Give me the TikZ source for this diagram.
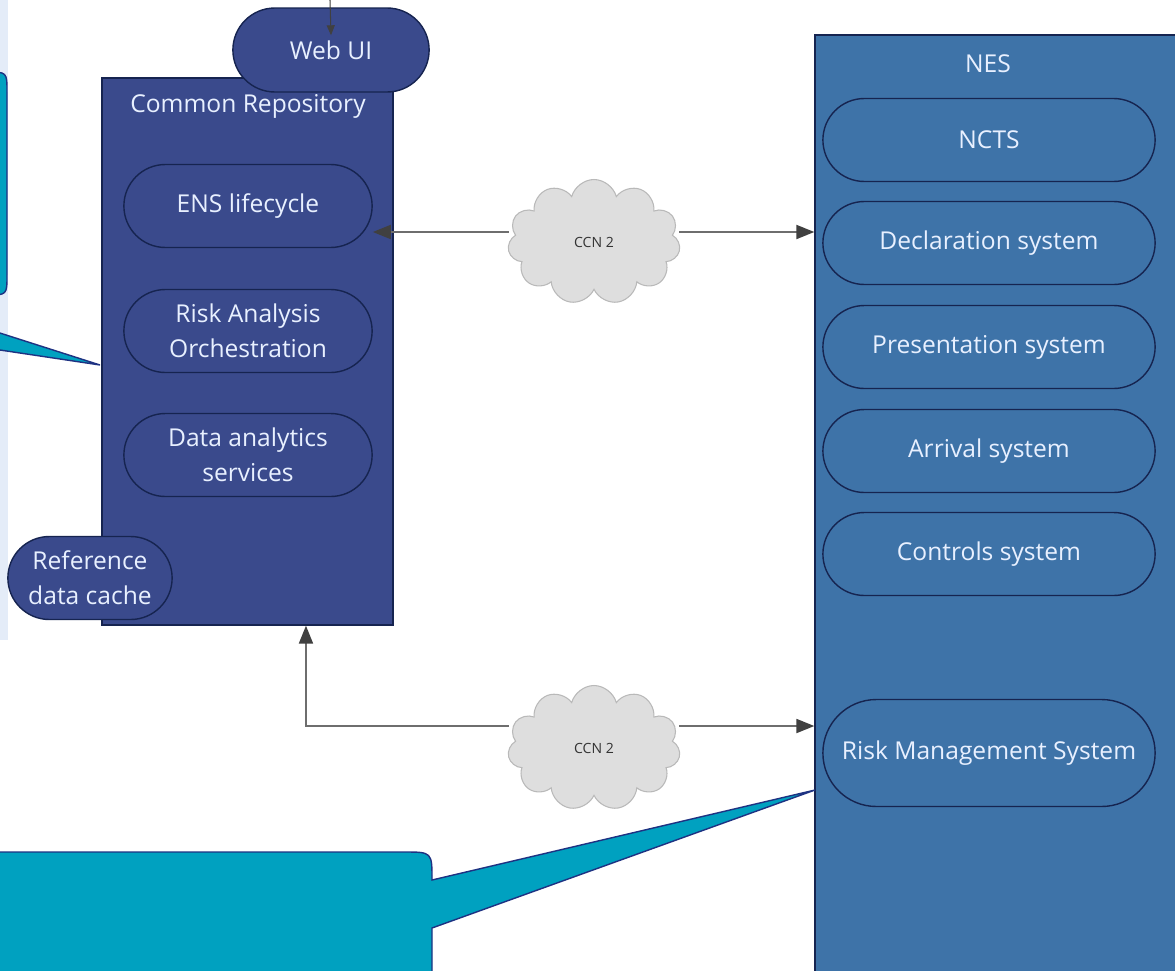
\documentclass[tikz,border=0pt]{standalone}
\usepackage{fontspec}
\setmainfont{Open Sans}
\usetikzlibrary{calc,shapes.misc,shapes.symbols,arrows.meta}

\definecolor{crblue}{RGB}{58,74,140}
\definecolor{nesblue}{RGB}{62,115,168}
\definecolor{navy}{RGB}{22,36,80}
\definecolor{calloutteal}{RGB}{0,161,192}
\definecolor{calloutedge}{RGB}{30,50,130}
\definecolor{paleband}{RGB}{228,236,248}
\definecolor{cloudgray}{RGB}{222,222,222}
\definecolor{linegray}{RGB}{110,110,110}
\definecolor{tipgray}{RGB}{64,64,64}
\definecolor{labelwhite}{RGB}{232,240,255}

\begin{document}
\begin{tikzpicture}[x=0.02cm,y=-0.02cm,
    container/.style={draw=navy,line width=0.8pt,inner sep=0pt},
    title/.style={text=labelwhite,font=\fontsize{14}{20}\selectfont},
    pill/.style={rounded rectangle,draw=navy,line width=0.8pt,text=labelwhite,
        align=center,font=\fontsize{14}{20}\selectfont,minimum height=1.66cm},
    crpill/.style={pill,fill=crblue,minimum width=5.2cm},
    nespill/.style={pill,fill=nesblue,minimum width=6.88cm},
    net/.style={cloud,cloud puffs=11,draw=gray!55,line width=0.6pt,fill=cloudgray,
        minimum width=3.45cm,minimum height=2.5cm,text=black!80,
        font=\fontsize{8}{10}\selectfont},
    link/.style={linegray,line width=1.1pt,
        -{Triangle[length=3.6mm,width=2.8mm,color=tipgray]}},
    callout/.style={fill=calloutteal,draw=calloutedge,line width=0.8pt}]

    \useasboundingbox (0,0) rectangle (1175,970);
    \clip (0,0) rectangle (1175,970);
    \fill[white] (0,0) rectangle (1175,970);
    \fill[paleband] (0,0) rectangle (8,640);

    % callout on the left
    \draw[callout] (-400,72) -- (-13,72) .. controls (7,72) .. (7,92) -- (7,275)
        .. controls (7,295) .. (-13,295) -- (-119,295) -- (100,365)
        -- (-367,295) -- (-400,295) -- cycle;

    % Common Repository
    \node[container,fill=crblue,minimum width=5.82cm,minimum height=10.94cm] (cr) at (247.5,351.5) {};
    \node[title] (crname) at (248,106) {Common Repository};
    \node[crpill] (ens) at (248,206) {ENS lifecycle};
    \node[crpill] (rao) at (248,331) {Risk Analysis\\Orchestration};
    \node[crpill] (das) at (248,455) {Data analytics\\services};
    \node[crpill,minimum width=3.52cm] (refcache) at (90,578) {Reference\\data cache};
    \node[crpill,minimum width=4.16cm,minimum height=1.68cm] (webui) at (331,50) {Web UI};

    \coordinate (uitop) at (330,0);
    \draw[tipgray,line width=0.6pt,-{Triangle[length=2mm,width=1.6mm]}] (uitop) -- ([yshift=-0.56cm]webui.north);

    % NES
    \node[container,fill=nesblue,minimum width=7.5cm,minimum height=19.1cm] (nes) at (1002.5,512.5) {};
    \node[title] (nesname) at (988,64) {NES};
    \foreach \name/\y/\txt in {ncts/140/NCTS,decl/243/Declaration system,
        pres/347/Presentation system,arr/451/Arrival system,ctrl/554/Controls system}
    {
        \node[nespill] (\name) at (989,\y) {\txt};
    }
    \node[nespill,minimum height=2.14cm] (rms) at (989,753) {Risk Management System};

    % CCN2 links
    \node[net] (ccna) at (594,242) {CCN 2};
    \node[net] (ccnb) at (594,748) {CCN 2};

    \coordinate (c1l) at ([yshift=0.2cm]ccna.west);
    \coordinate (c1r) at ([yshift=0.2cm]ccna.east);
    \coordinate (c2l) at ([yshift=0.44cm]ccnb.west);
    \coordinate (c2r) at ([yshift=0.44cm]ccnb.east);
    \coordinate (crin) at ($(cr.south west)!0.7!(cr.south east)$);

    \draw[link] (c1l) -- (c1l -| ens.east);
    \draw[link] (c1r) -- (c1r -| nes.west);
    \draw[link] (c2l) -| (crin);
    \draw[link] (c2r) -- (c2r -| nes.west);

    % callout at the bottom
    \draw[callout] (-20,852) -- (404,852) .. controls (432,852) .. (432,880)
        -- (815,790) -- (432,928) -- (432,1000) -- (-20,1000) -- cycle;

\end{tikzpicture}
\end{document}
